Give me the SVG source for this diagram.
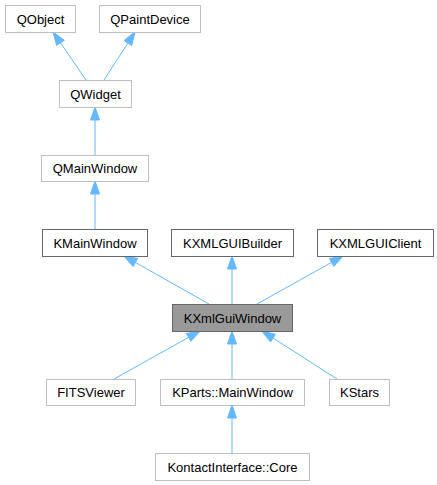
<svg xmlns="http://www.w3.org/2000/svg" width="437" height="485" viewBox="0 0 437 485">
<style>
.n rect{fill:#fff;stroke:#bfbfbf;stroke-width:1}
.n.d rect{stroke:#666}
.n.h rect{fill:#999;stroke:#666}
.n text{font-family:"Liberation Sans",Arial,sans-serif;font-size:13px;fill:#000;text-anchor:middle}
.e path{fill:none;stroke:#63b8ff;stroke-width:1;marker-end:url(#a)}
</style>
<defs>
<marker id="a" markerUnits="userSpaceOnUse" markerWidth="16" markerHeight="12" refX="14" refY="5" orient="auto">
<path d="M1,0.5 L14,5 L1,9.5 Z" fill="#63b8ff" stroke="#63b8ff" stroke-width="1"/>
</marker>
</defs>
<rect width="437" height="485" fill="#fff"/>
<g id="edges" class="e">
<path d="M86,80 L53,32"/>
<path d="M104,80 L135,32"/>
<path d="M95,155 L95,107"/>
<path d="M95,229 L95,181"/>
<path d="M209,304 L124,256"/>
<path d="M232,304 L232,256"/>
<path d="M257,304 L343,256"/>
<path d="M114,379 L200,331"/>
<path d="M232,379 L232,331"/>
<path d="M337,379 L262,331"/>
<path d="M232,453 L232,405"/>
</g>
<g id="QObject" class="n"><rect x="5.5" y="5.5" width="70" height="27"/><text x="40.5" y="23.5">QObject</text></g>
<g id="QPaintDevice" class="n"><rect x="99.5" y="5.5" width="101" height="27"/><text x="150" y="23.5">QPaintDevice</text></g>
<g id="QWidget" class="n"><rect x="59.5" y="80.5" width="72" height="27"/><text x="95.5" y="98.5">QWidget</text></g>
<g id="QMainWindow" class="n"><rect x="41.5" y="155.5" width="107" height="26"/><text x="95" y="173">QMainWindow</text></g>
<g id="KMainWindow" class="n d"><rect x="42.5" y="229.5" width="105" height="27"/><text x="95" y="247.5">KMainWindow</text></g>
<g id="KXMLGUIBuilder" class="n d"><rect x="171.5" y="229.5" width="122" height="27"/><text x="232.5" y="247.5">KXMLGUIBuilder</text></g>
<g id="KXMLGUIClient" class="n d"><rect x="317.5" y="229.5" width="116" height="27"/><text x="375.5" y="247.5">KXMLGUIClient</text></g>
<g id="KXmlGuiWindow" class="n h"><rect x="172.5" y="304.5" width="120" height="27"/><text x="232.5" y="322.5">KXmlGuiWindow</text></g>
<g id="FITSViewer" class="n"><rect x="46.5" y="379.5" width="89" height="26"/><text x="91" y="397">FITSViewer</text></g>
<g id="KPartsMainWindow" class="n"><rect x="160.5" y="379.5" width="144" height="26"/><text x="232.5" y="397">KParts::MainWindow</text></g>
<g id="KStars" class="n"><rect x="329.5" y="379.5" width="60" height="26"/><text x="359.5" y="397">KStars</text></g>
<g id="KontactInterfaceCore" class="n"><rect x="155.5" y="453.5" width="154" height="27"/><text x="232.5" y="471.5">KontactInterface::Core</text></g>
</svg>
